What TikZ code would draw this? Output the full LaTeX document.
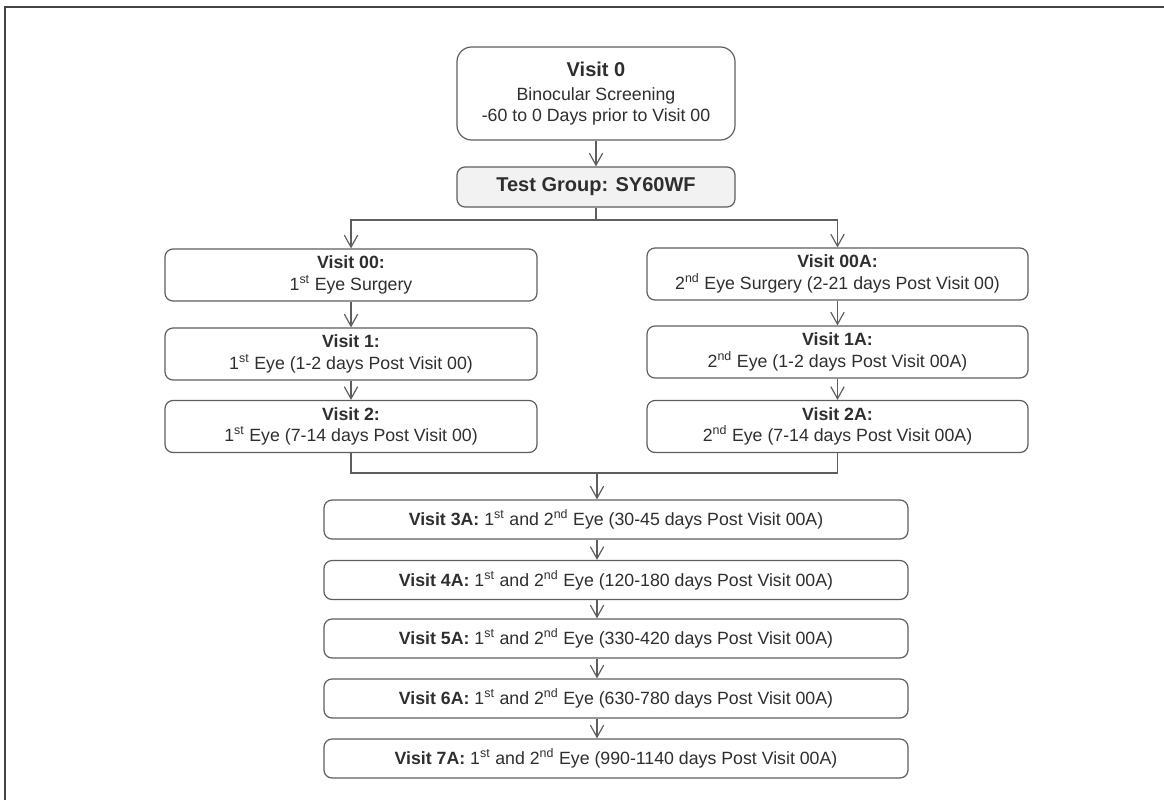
\documentclass[tikz,border=0pt]{standalone}
\usepackage{fontspec}
\setmainfont{Liberation Sans}
\usetikzlibrary{arrows.meta}

\definecolor{txtgray}{HTML}{2E2E2E}
\definecolor{boxgray}{HTML}{5E5E5E}
\definecolor{framegray}{HTML}{444444}
\definecolor{headfill}{HTML}{F2F2F2}

\begin{document}
\begin{tikzpicture}[x=0.75pt, y=-0.75pt,
    every node/.style={font=\fontsize{13.3}{16}\selectfont, text=txtgray},
    visitbox/.style={draw=boxgray, line width=0.9pt, rounded corners=6pt,
      align=center, inner sep=0pt, minimum height=39pt},
    widebox/.style={visitbox, minimum width=438pt, minimum height=29.25pt},
    conn/.style={draw=boxgray, line width=0.9pt},
    arr/.style={conn, -{Straight Barb[length=9pt, width=10pt]}}]

    % --- 1. page and frame ---
    \useasboundingbox (0,0) rectangle (1164,800);
    \draw[framegray, line width=1.6pt] (5,800) -- (5,7) -- (1164,7);

    % --- 2. x positions of the columns ---
    % xTop: screening column, xLeft: 1st eye, xRight: 2nd eye, xLow: lower stack
    \def\xTop{596}
    \def\xLeft{351}
    \def\xRight{837.5}
    \def\xLow{616}

    % --- 3. screening and group ---
    \node[visitbox, rounded corners=11pt, minimum width=208.5pt, minimum height=69.75pt]
      (V0) at (\xTop, 93.5)
      {{\fontsize{15}{16}\selectfont\bfseries Visit 0}\\[2pt]Binocular Screening\\-60 to 0 Days prior to Visit 00};
    \node[visitbox, fill=headfill, minimum width=208.5pt, minimum height=30pt]
      (TG) at (\xTop, 187)
      {\fontsize{15}{16}\selectfont\bfseries Test Group: SY60WF};

    % --- 4. first eye (left) and second eye (right) ---
    \node[visitbox, minimum width=279pt] (V00) at (\xLeft, 275)
      {\textbf{Visit 00:}\\1\textsuperscript{st} Eye Surgery};
    \node[visitbox, minimum width=279pt] (V1) at (\xLeft, 354)
      {\textbf{Visit 1:}\\1\textsuperscript{st} Eye (1-2 days Post Visit 00)};
    \node[visitbox, minimum width=279pt] (V2) at (\xLeft, 426.5)
      {\textbf{Visit 2:}\\1\textsuperscript{st} Eye (7-14 days Post Visit 00)};

    \node[visitbox, minimum width=285.75pt] (V00A) at (\xRight, 274)
      {\textbf{Visit 00A:}\\2\textsuperscript{nd} Eye Surgery (2-21 days Post Visit 00)};
    \node[visitbox, minimum width=285.75pt] (V1A) at (\xRight, 352)
      {\textbf{Visit 1A:}\\2\textsuperscript{nd} Eye (1-2 days Post Visit 00A)};
    \node[visitbox, minimum width=285.75pt] (V2A) at (\xRight, 426.5)
      {\textbf{Visit 2A:}\\2\textsuperscript{nd} Eye (7-14 days Post Visit 00A)};

    % --- 5. follow-up visits, both eyes ---
    \foreach \v/\yy/\d in {3A/519.5/30-45, 4A/580/120-180, 5A/638.5/330-420,
                           6A/698.5/630-780, 7A/758.5/990-1140}
      \node[widebox] (V\v) at (\xLow, \yy)
        {\textbf{Visit \v:} 1\textsuperscript{st} and 2\textsuperscript{nd} Eye (\d\ days Post Visit 00A)};

    % --- 6. connectors ---
    \coordinate (Split) at (\xTop, 220);
    \coordinate (Join)  at (597, 473);

    \draw[arr] (V0) -- (TG);
    \draw[conn] (TG.south) -- (Split);
    \draw[arr] (Split) -| (V00.north);
    \draw[arr] (Split) -| (V00A.north);

    \draw[arr] (V00) -- (V1);
    \draw[arr] (V1) -- (V2);
    \draw[arr] (V00A) -- (V1A);
    \draw[arr] (V1A) -- (V2A);

    \draw[conn] (V2.south) |- (Join) -| (V2A.south);
    \draw[arr] (Join) -- (V3A.north -| Join);

    \foreach \a/\b in {3A/4A, 4A/5A, 5A/6A, 6A/7A}
      \draw[arr] (V\a.south -| Join) -- (V\b.north -| Join);

  \end{tikzpicture}
\end{document}
